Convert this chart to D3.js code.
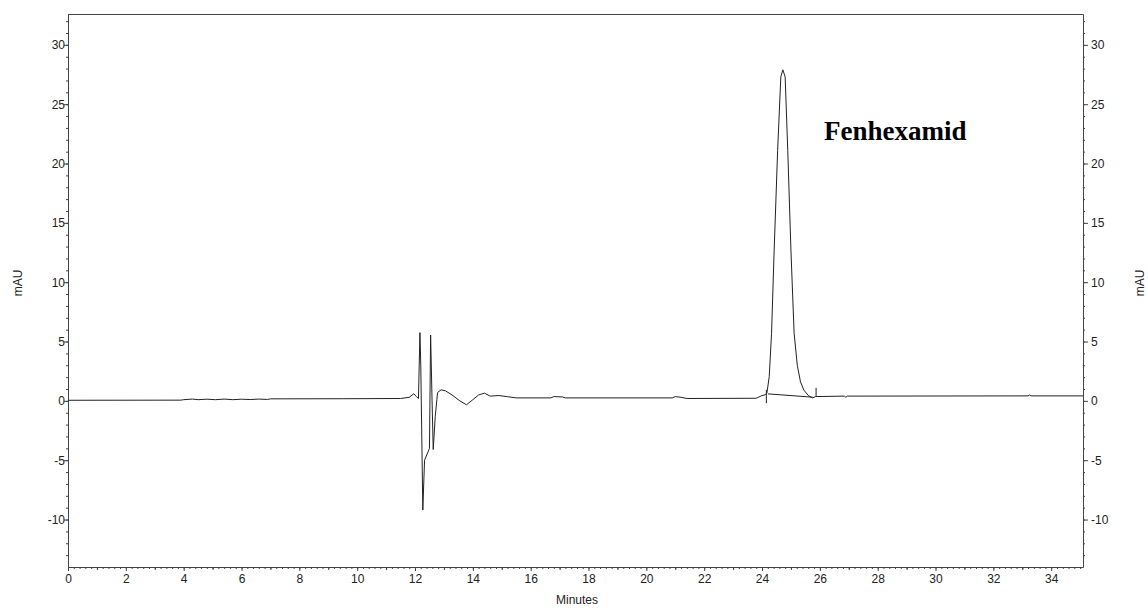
<!DOCTYPE html>
<html>
<head>
<meta charset="utf-8">
<script src="https://cdn.jsdelivr.net/npm/d3@7"></script>
<style>
  html, body { margin: 0; padding: 0; background: #fff; }
  svg { display: block; }
  .axis text { font-family: "Liberation Sans", Arial, sans-serif; font-size: 12px; fill: #222; }
  .axis path, .axis line { stroke: #444; }
</style>
</head>
<body>
<svg id="chart" width="1148" height="608"></svg>
<script>
// ---- data ----
const timeMin = [0, 3.9, 4.0, 4.3, 4.5, 4.8, 5.1, 5.4, 5.7, 6.0, 6.3, 6.6, 6.9, 7.0, 9.5, 11.5, 11.8, 11.96, 12.05, 12.12,
  12.17, 12.2, 12.27, 12.33, 12.45, 12.5, 12.54, 12.59, 12.63, 12.7, 12.78, 12.9, 13.05, 13.28, 13.55, 13.78, 14.0, 14.2,
  14.4, 14.6, 14.9, 15.2, 15.5, 16.7, 16.8, 17.1, 17.2, 20.9, 21.0, 21.2, 21.4, 23.8, 24.0, 24.1, 24.17, 24.25, 24.33,
  24.42, 24.54, 24.65, 24.72, 24.8, 24.89, 25.0, 25.11, 25.22, 25.33, 25.45, 25.6, 25.75, 25.85, 26.85, 26.9, 26.95,
  33.2, 33.25, 33.3, 35.1];
const signal = [0.05, 0.06, 0.1, 0.15, 0.1, 0.14, 0.1, 0.15, 0.1, 0.14, 0.11, 0.15, 0.12, 0.17, 0.18, 0.2, 0.3, 0.6, 0.35, 0.2,
  5.75, 3.0, -9.2, -5.0, -4.3, -4.0, 5.55, 0.0, -4.1, -1.3, 0.7, 0.93, 0.85, 0.5, 0.0, -0.33, 0.1, 0.5,
  0.65, 0.4, 0.45, 0.35, 0.25, 0.25, 0.36, 0.33, 0.25, 0.25, 0.36, 0.3, 0.2, 0.22, 0.45, 0.5, 0.67, 2.05, 5.7,
  12.7, 21.1, 27.3, 27.9, 27.3, 21.1, 12.7, 5.7, 3.0, 1.6, 0.9, 0.45, 0.25, 0.36, 0.4, 0.3, 0.4,
  0.42, 0.5, 0.42, 0.42];
// integration baseline under the peak and the start / end event markers
const intBaseTime = [24.2, 25.75];
const intBaseValue = [0.59, 0.31];
const markerTime = [24.15, 25.87];
const markerFrom = [0.93, 0.33];
const markerTo = [-0.19, 1.1];
const xMajorTicks = [0, 2, 4, 6, 8, 10, 12, 14, 16, 18, 20, 22, 24, 26, 28, 30, 32, 34];
const yMajorTicks = [-10, -5, 0, 5, 10, 15, 20, 25, 30];
const peakLabel = "Fenhexamid";

// ---- layout ----
const L = 68, T = 14, R = 1083, B = 567;
const svg = d3.select("#chart");
const x = d3.scaleLinear().domain([0, 35.1]).range([L, R]);
const y = d3.scaleLinear().domain([-14, 32.6]).range([B, T]);
const fmt = d => String(d);

// minor ticks
const xMinor = d3.range(0, 35.01, 0.2).map(v => Math.round(v * 10) / 10);
const xMid = d3.range(1, 35, 2);
const yMinor = d3.range(-13, 33, 1);

// frame top
svg.append("line").attr("x1", L).attr("x2", R + 0.5).attr("y1", T + 0.5).attr("y2", T + 0.5)
  .attr("stroke", "#444");

// x axis
svg.append("g").attr("class", "axis").attr("transform", `translate(0,${B})`)
  .call(d3.axisBottom(x).tickValues(xMinor).tickSize(2).tickSizeOuter(0).tickFormat(""));
svg.append("g").attr("class", "axis").attr("transform", `translate(0,${B})`)
  .call(d3.axisBottom(x).tickValues(xMid).tickSize(3).tickSizeOuter(0).tickFormat(""))
  .call(g => g.select(".domain").remove());
svg.append("g").attr("class", "axis").attr("transform", `translate(0,${B})`)
  .call(d3.axisBottom(x).tickValues(xMajorTicks).tickSize(4).tickSizeOuter(0).tickPadding(3).tickFormat(fmt))
  .call(g => g.select(".domain").remove());

// left y axis
svg.append("g").attr("class", "axis").attr("transform", `translate(${L},0)`)
  .call(d3.axisLeft(y).tickValues(yMinor).tickSize(2).tickSizeOuter(0).tickFormat(""));
svg.append("g").attr("class", "axis").attr("transform", `translate(${L},0)`)
  .call(d3.axisLeft(y).tickValues(yMajorTicks).tickSize(4).tickSizeOuter(0).tickPadding(-1).tickFormat(fmt))
  .call(g => g.select(".domain").remove());

// right y axis
svg.append("g").attr("class", "axis").attr("transform", `translate(${R},0)`)
  .call(d3.axisRight(y).tickValues(yMinor).tickSize(2).tickSizeOuter(0).tickFormat(""));
svg.append("g").attr("class", "axis").attr("transform", `translate(${R},0)`)
  .call(d3.axisRight(y).tickValues(yMajorTicks).tickSize(5).tickSizeOuter(0).tickPadding(3).tickFormat(fmt))
  .call(g => g.select(".domain").remove());

// axis titles
const titleStyle = s => s.attr("font-family", "Liberation Sans, Arial, sans-serif").attr("font-size", 12).attr("fill", "#222");
svg.append("text").call(titleStyle).attr("x", 577).attr("y", 604).attr("text-anchor", "middle").text("Minutes");
svg.append("text").call(titleStyle).attr("transform", "translate(22,283) rotate(-90)").attr("text-anchor", "middle").text("mAU");
svg.append("text").call(titleStyle).attr("transform", "translate(1144,283) rotate(-90)").attr("text-anchor", "middle").text("mAU");

// trace
const pts = timeMin.map((t, i) => [t, signal[i]]);
const line = d3.line().x(d => x(d[0])).y(d => y(d[1]));
svg.append("path").datum(pts).attr("d", line)
  .attr("fill", "none").attr("stroke", "#222").attr("stroke-width", 1).attr("stroke-linejoin", "round");

// integration baseline
svg.append("path").datum(intBaseTime.map((t, i) => [t, intBaseValue[i]])).attr("d", line)
  .attr("fill", "none").attr("stroke", "#222").attr("stroke-width", 1);
// event markers
svg.selectAll("line.marker").data(markerTime).join("line").attr("class", "marker")
  .attr("x1", d => x(d)).attr("x2", d => x(d))
  .attr("y1", (d, i) => y(markerFrom[i])).attr("y2", (d, i) => y(markerTo[i]))
  .attr("stroke", "#222").attr("stroke-width", 1);

// peak label
svg.append("text").attr("x", 824).attr("y", 140)
  .attr("font-family", "Liberation Serif, 'Times New Roman', serif").attr("font-weight", "bold")
  .attr("font-size", 27).attr("fill", "#000").text(peakLabel);
</script>
</body>
</html>
